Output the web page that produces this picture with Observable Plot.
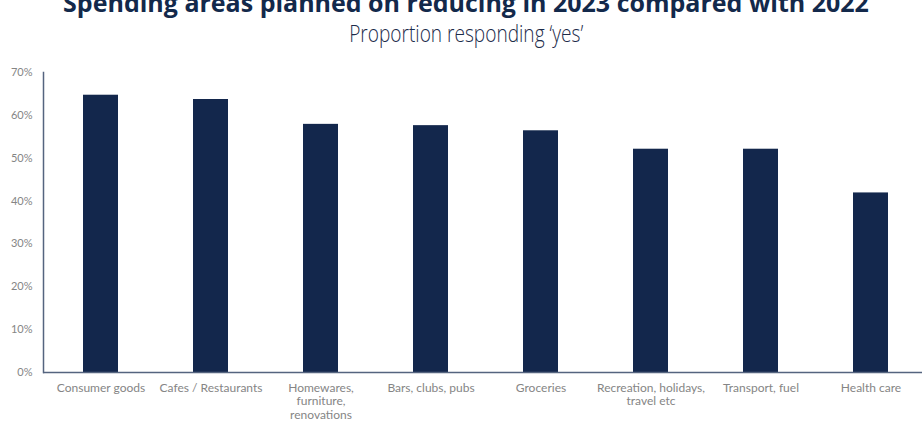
<!DOCTYPE html>
<html>
<head>
<meta charset="utf-8">
<script src="https://cdn.jsdelivr.net/npm/d3@7"></script>
<script src="https://cdn.jsdelivr.net/npm/@observablehq/plot@0.6"></script>
<style>
  html, body { margin: 0; padding: 0; background: #fff; }
  #wrap { position: relative; width: 922px; height: 423px; overflow: hidden; }
  #title { position: absolute; left: 5px; top: -10px; width: 922px; text-align: center;
    font-family: "Open Sans", sans-serif; font-weight: 700; font-size: 25px; line-height: 25px;
    color: #13294b; white-space: nowrap; }
  #subtitle { position: absolute; left: 4px; top: 19px; width: 922px; text-align: center;
    font-family: "Open Sans", sans-serif; font-weight: 300; font-size: 23px; line-height: 28px;
    color: #1c2b4a; white-space: nowrap; transform: scaleX(0.83); transform-origin: 468px 0; }
  #chart { position: absolute; left: 0; top: 50px; }
</style>
</head>
<body>
<div id="wrap">
  <div id="title">Spending areas planned on reducing in 2023 compared with 2022</div>
  <div id="subtitle">Proportion responding ‘yes’</div>
  <div id="chart"></div>
</div>
<script>
const categories = ["Consumer goods", "Cafes / Restaurants", "Homewares, furniture, renovations", "Bars, clubs, pubs", "Groceries", "Recreation, holidays, travel etc", "Transport, fuel", "Health care"];
const tickLabels = ["Consumer goods", "Cafes / Restaurants", "Homewares,\nfurniture,\nrenovations", "Bars, clubs, pubs", "Groceries", "Recreation, holidays,\ntravel etc", "Transport, fuel", "Health care"];
const values = [0.647, 0.637, 0.579, 0.576, 0.564, 0.521, 0.521, 0.419];
const yTicks = [0, 0.1, 0.2, 0.3, 0.4, 0.5, 0.6, 0.7];

const data = categories.map((c, i) => ({category: c, value: values[i]}));
const labelOf = new Map(categories.map((c, i) => [c, tickLabels[i]]));

const chart = Plot.plot({
  width: 922,
  height: 373,
  marginLeft: 43,
  marginRight: 0,
  marginTop: 22,
  marginBottom: 51,
  style: {fontFamily: "Lato, sans-serif", color: "#858585", background: "#fff"},
  x: {domain: categories, range: [43, 927], paddingInner: 0.683, paddingOuter: 0.34, label: null},
  y: {domain: [0, 0.7], label: null},
  marks: [
    Plot.barY(data, {x: "category", y: "value", fill: "#13274c"}),
    Plot.frame({anchor: "left", stroke: "#55647f", strokeWidth: 1.5}),
    Plot.ruleY([0], {stroke: "#55647f", strokeWidth: 1.5}),
    Plot.axisY({ticks: yTicks, tickFormat: d3.format(".0%"), tickSize: 0, tickPadding: 11, fontSize: 11, label: null}),
    Plot.axisX({tickSize: 0, tickPadding: 10, fontSize: 12, lineHeight: 1.12, tickFormat: d => labelOf.get(d), label: null})
  ]
});
document.getElementById("chart").appendChild(chart);
</script>
</body>
</html>
